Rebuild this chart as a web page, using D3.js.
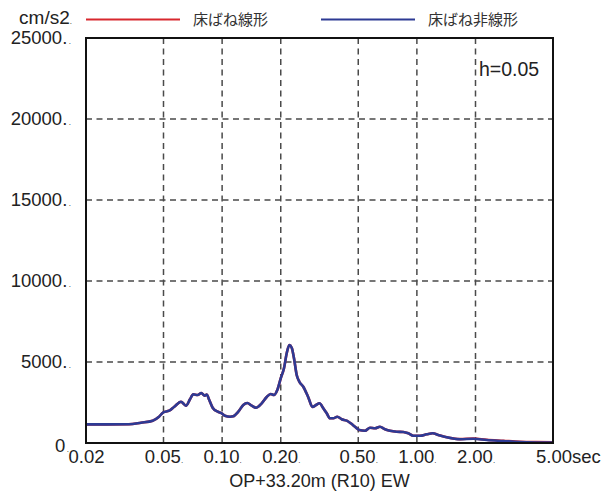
<!DOCTYPE html>
<html><head><meta charset="utf-8">
<script src="https://cdn.jsdelivr.net/npm/d3@7"></script>
<style>
body{margin:0;background:#fff;}
svg{display:block;font-family:"Liberation Sans",Arial,Helvetica,sans-serif;}
</style></head>
<body>
<svg id="c" width="607" height="495"></svg>
<script>
// ---- data ----
const periods = [0.02,0.0332,0.0383,0.0440,0.0474,0.0499,0.0535,0.0568,0.0615,0.0652,0.0684,0.0711,0.0749,0.0782,0.0814,0.0833,0.0859,0.0894,0.0949,0.0995,0.1034,0.1098,0.1141,0.1211,0.1284,0.1346,0.1418,0.1492,0.1596,0.1694,0.1776,0.1846,0.1920,0.1999,0.2078,0.2146,0.2213,0.2277,0.2339,0.2415,0.2491,0.2611,0.2771,0.2911,0.3034,0.3162,0.3307,0.3443,0.3580,0.3723,0.3903,0.4111,0.4361,0.4573,0.4812,0.5063,0.5416,0.5745,0.6095,0.6465,0.6859,0.7277,0.7876,0.8517,0.9036,0.9585,1.0375,1.123,1.206,1.288,1.423,1.665,1.949,2.283,2.778,3.385,4.123,5.0];
const linearValues = [1150,1155,1253,1377,1623,1895,1994,2241,2549,2303,2698,3006,2963,3087,2920,2994,2654,2179,1932,1833,1685,1623,1648,1932,2346,2469,2303,2179,2451,2840,3025,2963,3272,3994,4611,5537,6050,5883,5229,4198,3784,3475,2809,2222,2346,2451,2142,1833,1525,1525,1623,1463,1377,1216,1006,802,759,944,907,1006,846,759,698,679,599,451,451,537,599,494,352,240,280,200,140,80,55,40];
const nonlinearValues = [1150,1155,1253,1377,1623,1895,1994,2241,2549,2303,2698,3006,2963,3087,2920,2994,2654,2179,1932,1833,1685,1623,1648,1932,2346,2469,2303,2179,2451,2840,3025,2963,3272,3994,4611,5537,6050,5883,5229,4198,3784,3475,2809,2222,2346,2451,2142,1833,1525,1525,1623,1463,1377,1216,1006,802,759,944,907,1006,846,759,698,679,599,451,451,537,599,494,352,228,265,185,123,62,35,25];
const xTicks = [0.02,0.05,0.1,0.2,0.5,1,2,5];
const xTickLabels = ["0.02","0.05","0.10","0.20","0.50","1.00","2.00","5.00"];
const yTicks = [0,5000,10000,15000,20000,25000];
const yTickLabels = ["0","5000","10000","15000","20000","25000"];
const seriesNames = ["床ばね線形","床ばね非線形"];
const seriesColors = ["#d8282e","#2d3a94"];

// ---- layout ----
const L=86, R=553, T=38, B=443;
const svg = d3.select("#c");
const x = d3.scaleLog().domain([0.02,5]).range([L,R]);
const y = d3.scaleLinear().domain([0,25000]).range([B,T]);

// grid
const g = svg.append("g");
g.selectAll("line.vx").data(xTicks.slice(1,-1)).enter().append("line")
  .attr("x1",d=>x(d)).attr("x2",d=>x(d)).attr("y1",T).attr("y2",B)
  .attr("stroke","#4a4a4a").attr("stroke-width",1.5).attr("stroke-dasharray","6,4.5");
g.selectAll("line.hy").data(yTicks.slice(1,-1)).enter().append("line")
  .attr("y1",d=>y(d)).attr("y2",d=>y(d)).attr("x1",L).attr("x2",R)
  .attr("stroke","#4a4a4a").attr("stroke-width",1.5).attr("stroke-dasharray","6,4.5");

// curves
const line = d3.line().x((d,i)=>x(periods[i])).y(d=>y(d)).curve(d3.curveMonotoneX);
[linearValues,nonlinearValues].forEach((vals,k)=>{
  svg.append("path").datum(vals).attr("d",line).attr("fill","none")
    .attr("stroke",seriesColors[k]).attr("stroke-width",2.6).attr("stroke-linejoin","round");
});

// frame
svg.append("rect").attr("x",L).attr("y",T).attr("width",R-L).attr("height",B-T)
  .attr("fill","none").attr("stroke","#111").attr("stroke-width",2);

// x axis labels
const xAxis = d3.axisBottom(x).tickValues(xTicks).tickSize(0).tickPadding(0)
  .tickFormat((d,i)=>xTickLabels[i]);
const xa = svg.append("g").attr("transform",`translate(0,${B})`).call(xAxis);
xa.select(".domain").remove();
xa.selectAll("text").attr("y",19.5).attr("dy",null).attr("fill","#222")
  .attr("font-size",18.5).attr("font-family","'Liberation Sans',Arial,sans-serif")
  .each(function(d,i){
    const t=d3.select(this);
    if(i===xTicks.length-1){
      t.attr("text-anchor","start").attr("dx",-17.5);
      t.append("tspan").text("sec");
    } else if(i>0){
      t.append("tspan").attr("font-size",8).text(".");
    }
  });

// y axis labels
const yAxis = d3.axisLeft(y).tickValues(yTicks).tickSize(0).tickPadding(0)
  .tickFormat((d,i)=>yTickLabels[i]);
const ya = svg.append("g").attr("transform",`translate(71,0)`).call(yAxis);
ya.select(".domain").remove();
ya.selectAll("text").attr("x",0).attr("dy","0.29em").attr("fill","#222")
  .attr("font-size",18.5).attr("font-family","'Liberation Sans',Arial,sans-serif")
  .each(function(d){
    const t=d3.select(this);
    if(d!==0) t.append("tspan").text(".");
    t.append("tspan").attr("font-size",8).attr("dx",1.5).text(".");
  });
ya.selectAll(".tick").filter(d=>d===0).select("text").attr("x",-2).attr("dy","0.44em");

// unit
svg.append("text").attr("x",72).attr("y",24).attr("text-anchor","end")
  .attr("font-size",19).attr("fill","#222").text("cm/s2")
  .append("tspan").attr("font-size",8).text(".");

// legend
const legX=[86,321], legTX=[193,428];
seriesNames.forEach((n,k)=>{
  svg.append("line").attr("x1",legX[k]).attr("x2",legX[k]+94).attr("y1",19.5).attr("y2",19.5)
    .attr("stroke",seriesColors[k]).attr("stroke-width",2.2);
  svg.append("text").attr("x",legTX[k]).attr("y",25).attr("font-size",15)
    .attr("font-family","'Noto Sans CJK JP',sans-serif").attr("fill","#333").text(n);
});

// h label
svg.append("text").attr("x",479).attr("y",76).attr("font-size",19.5).attr("fill","#222").text("h=0.05");

// title
svg.append("text").attr("x",(L+R)/2).attr("y",487).attr("text-anchor","middle")
  .attr("font-size",18).attr("fill","#222").text("OP+33.20m (R10) EW");
</script>
</body></html>
